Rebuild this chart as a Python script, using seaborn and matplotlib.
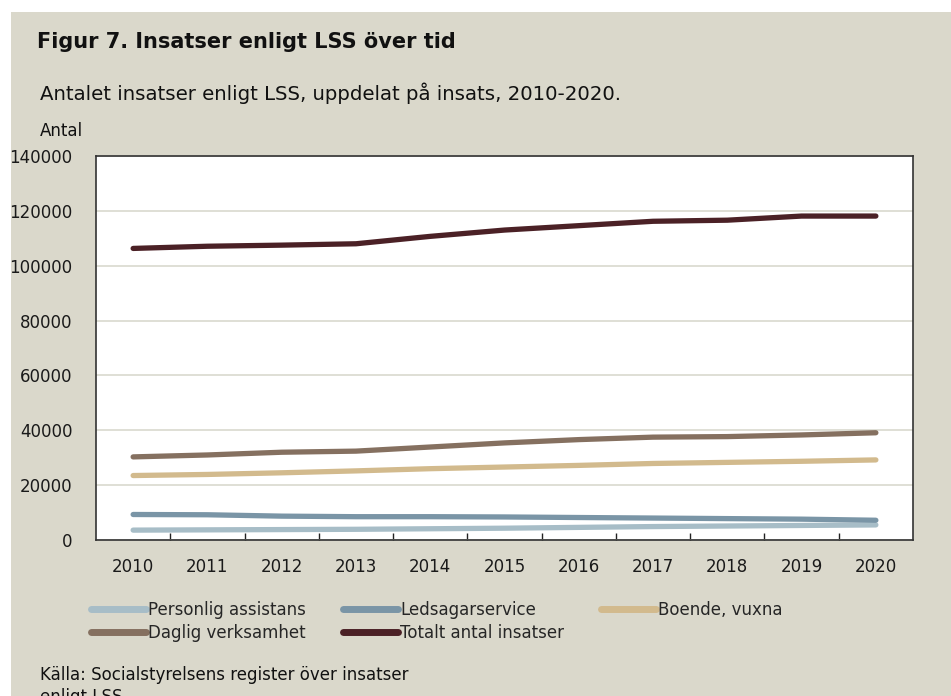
import matplotlib
matplotlib.use("Agg")
import matplotlib.pyplot as plt
import matplotlib.patches as mpatches
from matplotlib.ticker import FixedLocator, NullFormatter
import seaborn as sns
import pandas as pd

# --- data -------------------------------------------------------------
years = [2010, 2011, 2012, 2013, 2014, 2015, 2016, 2017, 2018, 2019, 2020]
personlig_assistans = [3600, 3700, 3800, 3900, 4100, 4300, 4600, 4900, 5100, 5300, 5500]
ledsagarservice = [9300, 9200, 8700, 8500, 8500, 8400, 8200, 8000, 7800, 7600, 7200]
boende_vuxna = [23500, 23900, 24500, 25200, 26000, 26600, 27200, 27900, 28300, 28700, 29200]
daglig_verksamhet = [30300, 31000, 32000, 32400, 33900, 35400, 36600, 37500, 37700, 38300, 39100]
totalt = [106300, 107100, 107500, 108000, 110700, 113000, 114600, 116200, 116600, 118100, 118100]

series_names = ["Personlig assistans", "Ledsagarservice", "Boende, vuxna",
                "Daglig verksamhet", "Totalt antal insatser"]
series_values = [personlig_assistans, ledsagarservice, boende_vuxna,
                 daglig_verksamhet, totalt]
colors = ["#a7bdc7", "#7a95a6", "#d2ba8d", "#857060", "#4b2126"]
y_ticks = [0, 20000, 40000, 60000, 80000, 100000, 120000, 140000]

rows = []
for name, vals in zip(series_names, series_values):
    for i, (yr, v) in enumerate(zip(years, vals)):
        rows.append({"pos": i, "year": yr, "value": v, "serie": name})
df = pd.DataFrame(rows)

# --- figure -----------------------------------------------------------
sns.set_theme(style="white")
plt.rcParams["font.family"] = ["DejaVu Sans"]

BG = "#dad8cb"
fig = plt.figure(figsize=(9.51, 6.96), dpi=100, facecolor="white")
W, H = 951, 696
panel = mpatches.Rectangle((11 / W, 0), 1 - 11 / W, 1 - 12 / H,
                           transform=fig.transFigure,
                           facecolor=BG, edgecolor="none", zorder=-10)
fig.add_artist(panel)

ax = fig.add_axes([96 / W, 1 - 540 / H, (913 - 96) / W, (540 - 156) / H])
ax.set_zorder(1)
ax.set_facecolor("white")

sns.lineplot(data=df, x="pos", y="value", hue="serie", hue_order=series_names,
             palette=colors, linewidth=3.8, legend=False, ax=ax,
             solid_capstyle="round")

ax.set_xlim(-0.5, len(years) - 0.5)
ax.set_ylim(0, 140000)
ax.set_yticks(y_ticks)
ax.set_yticklabels([str(t) for t in y_ticks], fontsize=12, color="#1a1a1a")
ax.set_xticks(range(len(years)))
ax.set_xticklabels([str(y) for y in years], fontsize=12, color="#1a1a1a")
ax.xaxis.set_minor_locator(FixedLocator([i + 0.5 for i in range(len(years) - 1)]))
ax.xaxis.set_minor_formatter(NullFormatter())
ax.tick_params(axis="x", which="major", length=0, pad=13)
ax.tick_params(axis="x", which="minor", direction="in", length=5,
               width=1, color="#222222", bottom=True)
ax.tick_params(axis="y", length=0, pad=17)
ax.set_xlabel("")
ax.set_ylabel("")

ax.grid(axis="y", color="#dcdcd2", linewidth=1.3)
ax.set_axisbelow(True)
for side in ["left", "right", "top", "bottom"]:
    ax.spines[side].set_visible(True)
    ax.spines[side].set_color("#333333")
    ax.spines[side].set_linewidth(1.2)

# legend: two rows, filled row by row
lines = ax.get_lines()[:len(series_names)]
order = [0, 3, 1, 4, 2]
leg = fig.legend([lines[i] for i in order], [series_names[i] for i in order],
                 ncol=3, loc="upper left", bbox_to_anchor=(84 / W, 1 - 594 / H),
                 frameon=False, fontsize=12, handlelength=3.3, handletextpad=0.15,
                 columnspacing=2.2, labelspacing=0.3, borderaxespad=0)
for h in leg.legend_handles:
    h.set_linewidth(5)

# texts
fig.text(37 / W, 1 - 42 / H, "Figur 7. Insatser enligt LSS över tid",
         fontsize=15, fontweight="bold", color="#111111", va="center")
fig.text(40 / W, 1 - 93 / H,
         "Antalet insatser enligt LSS, uppdelat på insats, 2010-2020.",
         fontsize=14.2, color="#111111", va="center")
fig.text(40 / W, 1 - 131 / H, "Antal", fontsize=12, color="#111111", va="center")
fig.text(40 / W, 1 - 675 / H, "Källa: Socialstyrelsens register över insatser",
         fontsize=12, color="#111111", va="center")
fig.text(40 / W, 1 - 697 / H, "enligt LSS",
         fontsize=12, color="#111111", va="center")

fig.savefig("out.png", dpi=100, facecolor=fig.get_facecolor())
